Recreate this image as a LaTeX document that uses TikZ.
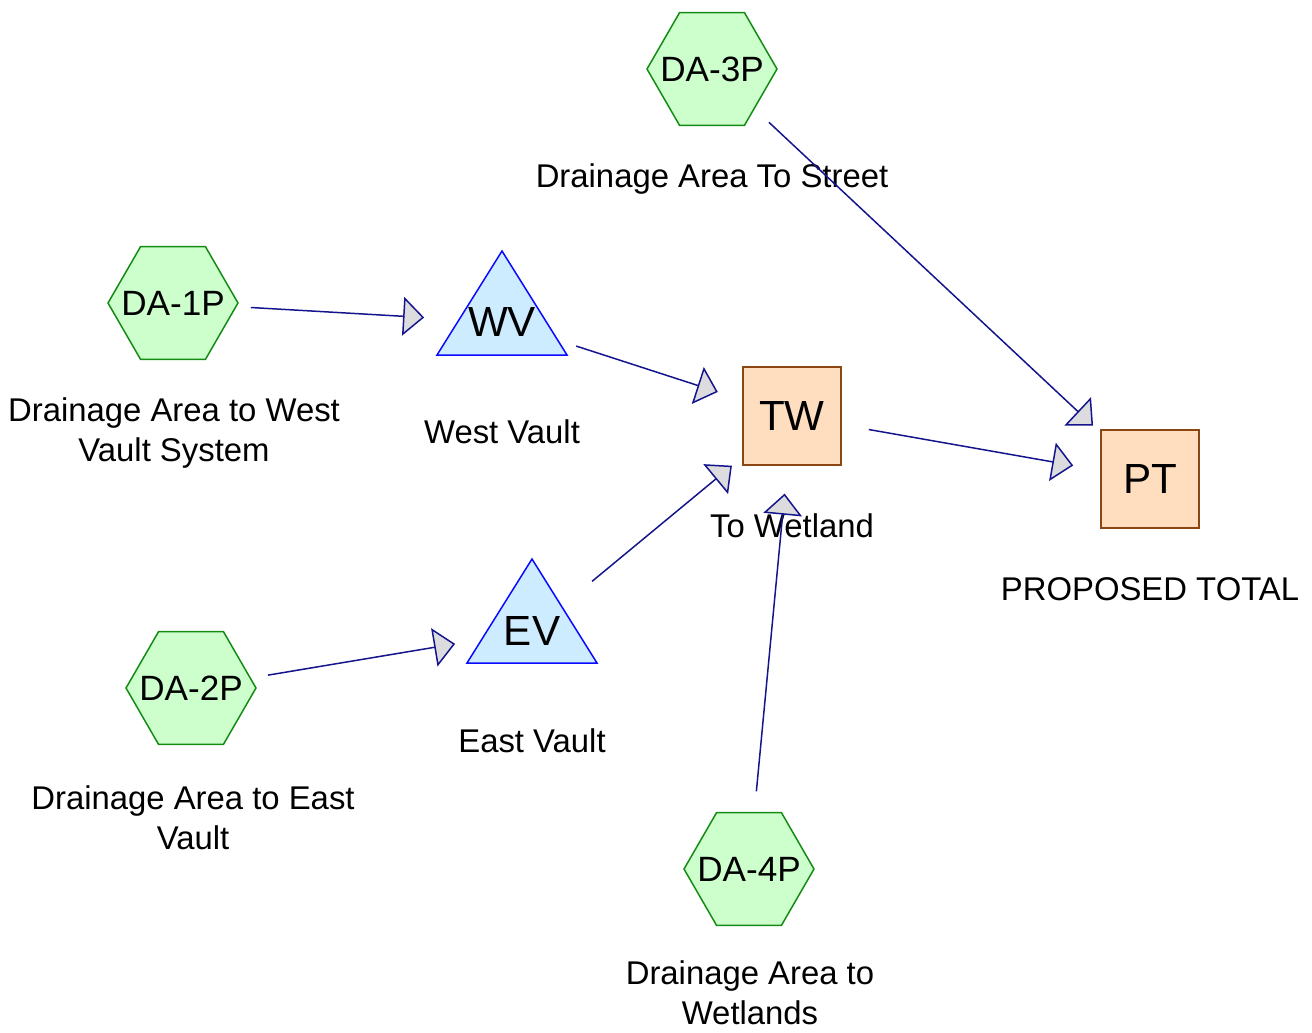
\documentclass[tikz,border=0pt]{standalone}
\usepackage{fontspec}
\setmainfont{Liberation Sans}
\usetikzlibrary{arrows.meta,shapes.geometric}
\definecolor{BasinGreen}{RGB}{204,255,204}
\definecolor{BasinEdge}{RGB}{20,140,20}
\definecolor{VaultBlue}{RGB}{206,236,255}
\definecolor{VaultEdge}{RGB}{10,10,255}
\definecolor{ReachOrange}{RGB}{255,222,192}
\definecolor{ReachEdge}{RGB}{140,70,20}
\definecolor{LinkNavy}{RGB}{20,20,140}
\definecolor{TipGray}{RGB}{220,220,222}

\begin{document}
\begin{tikzpicture}[x=0.02cm,y=-0.02cm,
    basin/.style={regular polygon,regular polygon sides=6,minimum size=2.6cm,inner sep=0pt,
      fill=BasinGreen,draw=BasinEdge,line width=0.85pt,
      label={[font=\fontsize{20}{24}\selectfont]center:#1}},
    vault/.style={inner sep=0pt,font=\fontsize{24}{28}\selectfont},
    vaultshape/.style={fill=VaultBlue,draw=VaultEdge,line width=0.85pt},
    reach/.style={rectangle,minimum size=1.96cm,inner sep=0pt,
      fill=ReachOrange,draw=ReachEdge,line width=0.85pt,font=\fontsize{24}{28}\selectfont},
    caption/.style={align=center,inner sep=0pt,font=\fontsize{18.7}{22.7}\selectfont},
    link/.style={draw=LinkNavy,line width=0.85pt,shorten <=1.56cm,shorten >=1.56cm,
      -{Triangle[length=12pt,width=22pt,fill=TipGray]}}]
  \useasboundingbox (0,0) rectangle (1312,1032);

  % subcatchments
  \node[basin=DA-3P] (DA3) at (712,69) {};
  \node[basin=DA-1P] (DA1) at (173,303) {};
  \node[basin=DA-2P] (DA2) at (191,688) {};
  \node[basin=DA-4P] (DA4) at (749,869) {};
  \node[caption] (DA3txt) at (712,179) {Drainage Area To Street};
  \node[caption] (DA1txt) at (174,433) {Drainage Area to West\\Vault System};
  \node[caption] (DA2txt) at (193,818) {Drainage Area to East\\Vault};
  \node[caption] (DA4txt) at (750,993) {Drainage Area to\\Wetlands};

  % vaults
  \draw[vaultshape] (437,355) -- (502,251) -- (567,355) -- cycle;
  \draw[vaultshape] (467,663) -- (532,559) -- (597,663) -- cycle;
  \node[vault] (WV) at (502,322) {WV};
  \node[vault] (EV) at (532,631) {EV};
  \node[caption] (WVtxt) at (502,432) {West Vault};
  \node[caption] (EVtxt) at (532,741) {East Vault};

  % reaches
  \node[reach] (TW) at (792,416) {TW};
  \node[reach] (PT) at (1150,479) {PT};
  \node[caption] (TWtxt) at (792,526) {To Wetland};
  \node[caption] (PTtxt) at (1150,589) {PROPOSED TOTAL};

  % links
  \draw[link] (DA1.center) -- (WV.center);
  \draw[link] (DA2.center) -- (EV.center);
  \draw[link] (WV.center) -- (TW.center);
  \draw[link] (EV.center) -- (TW.center);
  \draw[link] (DA4.center) -- (TW.center);
  \draw[link] (DA3.center) -- (PT.center);
  \draw[link] (TW.center) -- (PT.center);
\end{tikzpicture}
\end{document}
